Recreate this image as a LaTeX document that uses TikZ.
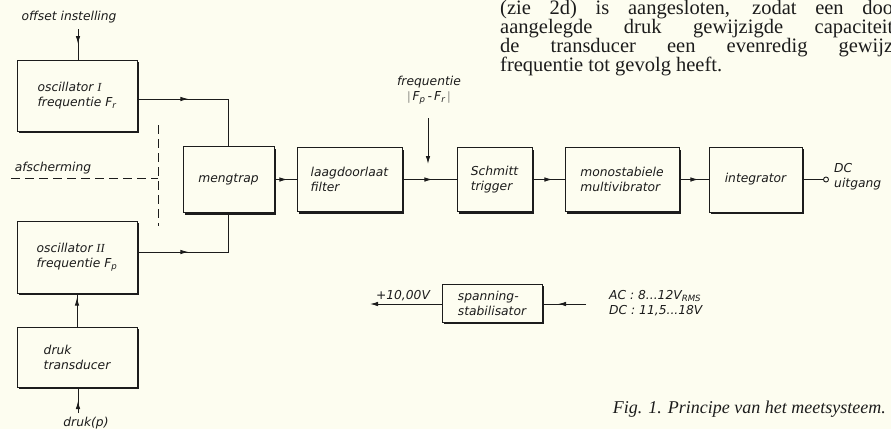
\documentclass[tikz,border=0pt]{standalone}
\usepackage{fontspec}
\setmainfont{Liberation Serif}
\newfontfamily\lblfont{DejaVu Sans}
\usetikzlibrary{arrows.meta,decorations.markings,shadows}
\definecolor{paper}{RGB}{253,253,240}
\definecolor{ink}{RGB}{28,28,28}
\tikzset{
  lbl/.style={font=\lblfont\itshape\fontsize{12.3}{15}\selectfont, text=ink, inner sep=0pt, align=left},
  blk/.style={draw=ink, line width=0.9pt, fill=paper, lbl, inner sep=3pt,
    drop shadow={shadow xshift=2.2pt, shadow yshift=-2.2pt, fill=ink, opacity=1}},
  conn/.style={draw=ink, line width=0.9pt},
  endtip/.style={-{Latex[length=8pt,width=4.5pt]}},
  arrowat/.style={postaction={decorate}, decoration={markings,
    mark=at position #1 with {\arrow{Latex[length=8pt,width=4.5pt]}}}},
  shield/.style={draw=ink, line width=0.9pt, dash pattern=on 9pt off 5pt},
  bodytext/.style={font=\fontsize{20.5}{19.5}\selectfont, text=ink, inner sep=0pt, anchor=base west}
}
\newcommand{\numI}{{\rmfamily\itshape I}}
\newcommand{\numII}{{\rmfamily\itshape II}}
\begin{document}
\begin{tikzpicture}[x=1pt,y=-1pt]
\fill[paper] (0,0) rectangle (891,429);
\useasboundingbox (0,0) rectangle (891,429);

% body text (top right)
\node[bodytext] (t1) at (500,14.5) {\makebox[393pt][s]{(zie 2d) is aangesloten, zodat een doo}};
\node[bodytext] (t2) at (500,33.5) {\makebox[393pt][s]{aangelegde druk gewijzigde capaciteit}};
\node[bodytext] (t3) at (500,52.5) {\makebox[393pt][s]{de transducer een evenredig gewijz}};
\node[bodytext] (t4) at (500,71.5) {frequentie tot gevolg heeft.};

% caption
\node[font=\itshape\fontsize{18}{20}\selectfont, text=ink, inner sep=0pt, anchor=base east] (cap) at (886,413) {Fig. 1. Principe van het meetsysteem.};

% blocks
\node[blk, minimum width=120pt, minimum height=71pt] (oscI) at (77,95.5) {oscillator \numI\\frequentie F\textsubscript{r}};
\node[blk, minimum width=120pt, minimum height=72pt] (oscII) at (77,257) {oscillator \numII\\frequentie F\textsubscript{p}};
\node[blk, minimum width=120pt, minimum height=60pt] (druk) at (77,357) {druk\\transducer};
\node[blk, minimum width=91pt, minimum height=66pt] (meng) at (228.5,179.5) {mengtrap};
\node[blk, minimum width=105pt, minimum height=64pt] (laag) at (349.5,179.5) {laagdoorlaat\\filter};
\node[blk, minimum width=75pt, minimum height=64pt] (schmitt) at (494.5,179.5) {Schmitt\\trigger};
\node[blk, minimum width=114pt, minimum height=64pt] (mono) at (622,179.5) {monostabiele\\multivibrator};
\node[blk, minimum width=93pt, minimum height=65pt] (integ) at (755.5,179.5) {integrator};
\node[blk, minimum width=100pt, minimum height=38pt] (span) at (492,303) {spanning-\\stabilisator};

% labels
\node[lbl] (offs) at (69,17) {offset instelling};
\node[lbl] (afs) at (53,168) {afscherming};
\node[lbl] (pin) at (86,423) {druk(p)};
\node[lbl, align=center] (freq) at (429,90) {frequentie\\$|$\,F\textsubscript{p}\,-\,F\textsubscript{r}\,$|$};
\node[lbl, anchor=west] (dc) at (834,177) {DC\\uitgang};
\node[lbl, anchor=south] (vlab) at (403,301) {+10,00V};
\node[lbl, anchor=west] (acdc) at (609,303) {AC : 8...12V\textsubscript{RMS}\\DC : 11,5...18V};
\node[circle, draw=ink, fill=paper, line width=0.9pt, inner sep=0pt, minimum size=5pt] (out) at (826,179.5) {};

% free ends
\coordinate (offin) at (78,29);
\coordinate (pinc) at (78,413);
\coordinate (fa) at (428,118);
\coordinate (fb) at (428,164);
\coordinate (vout) at (370,304);
\coordinate (acin) at (586,304);
\coordinate (d1) at (11,178);
\coordinate (d2) at (158,178);
\coordinate (d3) at (158,125);
\coordinate (d4) at (158,226);

% connectors
\draw[conn, arrowat=15pt] (offin) -- (oscI.north -| offin);
\draw[conn, arrowat=51pt] ([yshift=-3.5pt]oscI.east) -| (meng.north);
\draw[conn, arrowat=51pt] ([yshift=5pt]oscII.east) -| (meng.south);
\draw[conn, arrowat=29pt] (druk.north) -- (oscII.south);
\draw[conn, arrowat=12pt] (pinc) -- (druk.south -| pinc);
\draw[conn, arrowat=13pt] (meng.east) -- (laag.west);
\draw[conn, arrowat=30pt] (laag.east) -- (schmitt.west);
\draw[conn, endtip] (fa) -- (fb);
\draw[conn, arrowat=20pt] (schmitt.east) -- (mono.west);
\draw[conn, arrowat=19pt] (mono.east) -- (integ.west);
\draw[conn] (integ.east) -- (out.west);
\draw[conn, endtip] (span.west |- vout) -- (vout);
\draw[conn, arrowat=28pt] (acin) -- (span.east |- acin);
\draw[shield] (d1) -- (d2);
\draw[shield] (d3) -- (d4);
\end{tikzpicture}
\end{document}
